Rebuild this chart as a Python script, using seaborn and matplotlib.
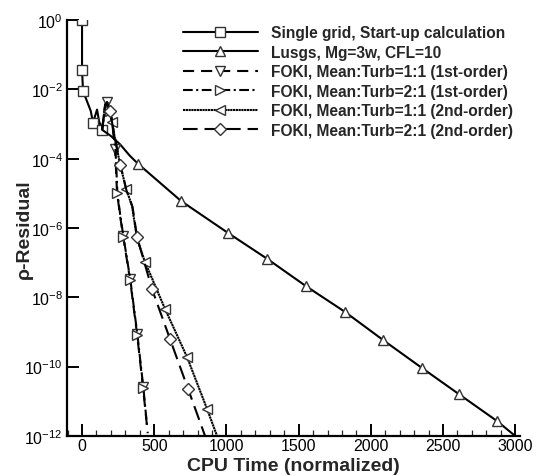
import numpy as np
import pandas as pd
import matplotlib
matplotlib.use("Agg")
import matplotlib.pyplot as plt
import seaborn as sns
from matplotlib.ticker import FixedLocator, MultipleLocator, LogFormatterSciNotation

# ---------------- data ----------------
labels = [
    "Single grid, Start-up calculation",
    "Lusgs, Mg=3w, CFL=10",
    "FOKI, Mean:Turb=1:1 (1st-order)",
    "FOKI, Mean:Turb=2:1 (1st-order)",
    "FOKI, Mean:Turb=1:1 (2nd-order)",
    "FOKI, Mean:Turb=2:1 (2nd-order)",
]

startup_x = [0, 0, 7, 60, 76, 104, 118, 139]
startup_y = [1.0, 3.6e-2, 8.9e-3, 2.4e-3, 1.1e-3, 2.6e-3, 1.2e-3, 6.8e-4]

lusgs_x = [139, 200, 263, 332, 388, 686, 1011, 1281, 1551, 1821, 2084, 2355, 2611, 2874, 3000]
lusgs_y = [6.8e-4, 4.5e-4, 2.6e-4, 1.2e-4, 7.1e-5, 6.0e-6, 7.2e-7, 1.3e-7, 2.1e-8,
           3.8e-9, 5.9e-10, 9.1e-11, 1.6e-11, 2.7e-12, 1.0e-12]

foki11_1st_x = [139, 160, 173, 192, 208, 229, 242, 262, 284, 332, 381, 422, 455]
foki11_1st_y = [6.8e-4, 3.6e-3, 4.3e-3, 2.5e-3, 1.15e-3, 1.9e-4, 1.1e-5, 2.5e-6,
                5.9e-7, 3.4e-8, 8.7e-10, 2.6e-11, 1.2e-12]

foki21_1st_x = [139, 162, 176, 195, 211, 232, 245, 265, 287, 335, 384, 425, 450]
foki21_1st_y = [6.8e-4, 3.4e-3, 4.1e-3, 2.3e-3, 1.0e-3, 1.7e-4, 1.0e-5, 2.3e-6,
                5.5e-7, 3.1e-8, 8.0e-10, 2.4e-11, 2.0e-12]

foki11_2nd_x = [139, 160, 173, 192, 208, 235, 263, 305, 346, 381, 436, 575, 727, 866, 935]
foki11_2nd_y = [6.8e-4, 3.6e-3, 4.3e-3, 2.5e-3, 1.15e-3, 2.6e-4, 7.1e-5, 1.35e-5,
                4.4e-6, 4.8e-7, 1.05e-7, 4.6e-9, 1.9e-10, 6.0e-12, 1.0e-12]

foki21_2nd_x = [139, 160, 175, 195, 210, 238, 266, 308, 350, 381, 485, 609, 734, 852]
foki21_2nd_y = [6.8e-4, 3.4e-3, 4.1e-3, 2.3e-3, 1.0e-3, 2.4e-4, 6.5e-5, 1.2e-5,
                4.0e-6, 5.5e-7, 1.7e-8, 6.3e-10, 2.3e-11, 1.0e-12]

x_ticks = [0, 500, 1000, 1500, 2000, 2500, 3000]
y_ticks = [1e-12, 1e-10, 1e-8, 1e-6, 1e-4, 1e-2, 1e0]

series = [
    (startup_x, startup_y),
    (lusgs_x, lusgs_y),
    (foki11_1st_x, foki11_1st_y),
    (foki21_1st_x, foki21_1st_y),
    (foki11_2nd_x, foki11_2nd_y),
    (foki21_2nd_x, foki21_2nd_y),
]

# ---------------- styles ----------------
styles = [
    dict(marker="s", ls="-", markevery=[0, 1, 2, 4, 7]),
    dict(marker="^", ls="-", markevery=list(range(4, 14))),
    dict(marker="v", ls=(0, (8.0, 5.0)), markevery=[2, 5, 8, 9, 10, 11]),
    dict(marker=">", ls=(0, (7.0, 2.5, 1.5, 2.5)), markevery=[3, 6, 8, 9, 10, 11]),
    dict(marker="<", ls=(0, (1.6, 0.4)), markevery=[4, 7, 10, 11, 12, 13]),
    dict(marker="D", ls=(0, (10.5, 5.0)), markevery=[3, 6, 9, 10, 11, 12]),
]

sns.set_theme(style="ticks")
plt.rcParams["font.family"] = ["Liberation Sans", "DejaVu Sans"]
plt.rcParams["mathtext.default"] = "regular"
plt.rcParams["lines.scale_dashes"] = False

fig = plt.figure(figsize=(5.37, 4.77), dpi=100)
ax = fig.add_axes([0.1248, 0.0839, 0.9683 - 0.1248, 0.956 - 0.0839])

for (xs, ys), lab, st in zip(series, labels, styles):
    df = pd.DataFrame({"x": xs, "y": ys})
    ms = 6.0 if st["marker"] == "D" else 7.0
    sns.lineplot(data=df, x="x", y="y", ax=ax, sort=False, estimator=None,
                 color="black", linestyle=st["ls"], linewidth=1.5,
                 marker=st["marker"], markevery=st["markevery"],
                 markersize=ms, markerfacecolor="white",
                 markeredgecolor="#333333", markeredgewidth=1.0,
                 label=lab)

ax.set_yscale("log")
ax.set_xlim(-104, 3033)
ax.set_ylim(1e-12, 1.0)
ax.yaxis.set_major_locator(FixedLocator(y_ticks))
ax.yaxis.set_major_formatter(LogFormatterSciNotation())
ax.yaxis.set_minor_locator(FixedLocator([]))
ax.xaxis.set_major_locator(FixedLocator(x_ticks))
ax.xaxis.set_minor_locator(MultipleLocator(100))

for s in ["top", "right"]:
    ax.spines[s].set_visible(False)
for s in ["left", "bottom"]:
    ax.spines[s].set_linewidth(1.6)
    ax.spines[s].set_color("black")

ax.tick_params(axis="both", which="major", direction="in", length=8.5, width=1.4,
               labelsize=11.5, pad=3, colors="black")
ax.tick_params(axis="x", which="major", pad=1.5)
ax.tick_params(axis="x", which="minor", direction="in", length=4.5, width=0.9)
ax.tick_params(axis="y", which="minor", length=0)

ax.set_xlabel("CPU Time (normalized)", fontsize=14, fontweight="bold", labelpad=2.5)
ax.set_ylabel("ρ-Residual", fontsize=14, fontweight="bold")
ax.yaxis.set_label_coords((33 - 67) / 453, 0.5)
ax.grid(False)

leg = ax.legend(loc="upper left", bbox_to_anchor=(183 / 537, 1 - 26 / 477),
                bbox_transform=fig.transFigure, frameon=False,
                prop=dict(family=["Liberation Sans", "DejaVu Sans"], weight="bold", size=11.2),
                handlelength=4.8, handletextpad=0.85, labelspacing=0.29,
                borderpad=0, borderaxespad=0)

fig.savefig("out.png", dpi=100)
